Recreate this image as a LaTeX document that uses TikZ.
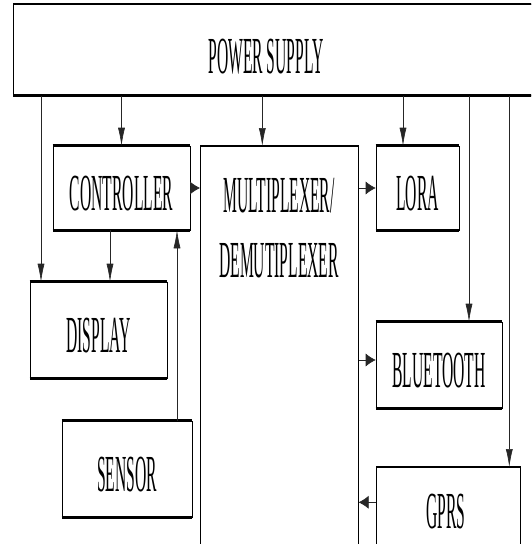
\documentclass[tikz,border=0pt]{standalone}
\usepackage{fontspec}
\setmainfont{Liberation Serif}
\usetikzlibrary{arrows.meta}
\newcommand{\narrow}[1]{\scalebox{0.30}[1]{#1}}
\tikzset{
  txt/.style={font=\fontsize{52}{65}\selectfont, inner sep=0pt},
  box/.style={txt, draw, line width=0.6pt, text height=45pt, text depth=0pt,
    append after command={(\tikzlastnode.north west) edge[line width=2.6pt,-] (\tikzlastnode.north east)
      (\tikzlastnode.south west) edge[line width=2.6pt,-] (\tikzlastnode.south east)}},
  down/.style={-{Latex[length=18pt,width=7pt]}, line width=0.6pt, black!85},
  side/.style={-{Latex[length=10pt,width=13pt]}, line width=0.6pt, black!85},
}

\begin{document}
\begin{tikzpicture}[x=1pt,y=-1pt]
	\clip (0,0) rectangle (531,544);
	\fill[white] (0,0) rectangle (531,544);

	\node (pwr) [box, anchor=north west, minimum width=560pt, minimum height=91pt] at (13,4) {};
	\node (pwrlbl) [txt] at (266,57) {\narrow{POWER SUPPLY}};

	\node (ctrl) [box, minimum width=137pt, minimum height=84pt] at (121.5,188) {\narrow{CONTROLLER}};
	\node (lora) [box, minimum width=83pt, minimum height=84pt] at (417.5,188) {\narrow{LORA}};
	\node (disp) [box, minimum width=137pt, minimum height=96pt] at (98.5,330) {\narrow{DISPLAY}};
	\node (bt) [box, minimum width=126pt, minimum height=86pt] at (439,365) {\narrow{BLUETOOTH}};
	\node (sensor) [box, minimum width=130pt, minimum height=96pt] at (127,469) {\narrow{SENSOR}};

	\node (mux) [box, anchor=north west, minimum width=158pt, minimum height=420pt] at (200,146) {};
	\node (muxlbl) [txt, align=center, anchor=north] at (279,178) {\narrow{MULTIPLEXER/}\\\narrow{DEMUTIPLEXER}};

	\node (gprs) [box, anchor=north west, minimum width=144pt, minimum height=100pt] at (376,467) {};
	\node (gprslbl) [txt] at (446,512) {\narrow{GPRS}};

	% supply lines
	\draw[down] ([xshift=-57.5]pwr.south -| disp.north) -- ([xshift=-57.5]disp.north);
	\draw[down] (pwr.south -| ctrl.north) -- (ctrl.north);
	\draw[down] ([xshift=-17]pwr.south -| mux.north) -- ([xshift=-17]mux.north);
	\draw[down] ([xshift=-14.5]pwr.south -| lora.north) -- ([xshift=-14.5]lora.north);
	\draw[down] ([xshift=30]pwr.south -| bt.north) -- ([xshift=30]bt.north);
	\draw[down] ([xshift=61]pwr.south -| gprs.north) -- ([xshift=61]gprs.north);

	\draw[down] ([xshift=-11.5]ctrl.south) -- ([xshift=-11.5]ctrl.south |- disp.north);
	\draw[down] ([xshift=50]sensor.north) -- ([xshift=50]sensor.north |- ctrl.south);

	% data lines
	\draw[side] (ctrl.east) -- (ctrl.east -| mux.west);
	\draw[side] (lora.west -| mux.east) -- (lora.west);
	\draw[side] ([yshift=5]bt.west -| mux.east) -- ([yshift=5]bt.west);
	\draw[side] ([yshift=15]gprs.west) -- ([yshift=15]gprs.west -| mux.east);
\end{tikzpicture}
\end{document}
